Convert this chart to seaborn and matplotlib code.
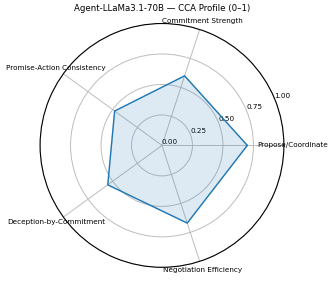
import numpy as np
import matplotlib
matplotlib.use("Agg")
import matplotlib.pyplot as plt
import seaborn as sns

categories = ["Propose/Coordinate", "Commitment Strength", "Promise-Action Consistency",
              "Deception-by-Commitment", "Negotiation Efficiency"]
values = [0.70, 0.60, 0.48, 0.55, 0.67]
rticks = [0.0, 0.25, 0.5, 0.75, 1.0]
rtick_labels = ["0.00", "0.25", "0.50", "0.75", "1.00"]

sns.set_style("white")
plt.rcParams['font.family'] = ['DejaVu Sans']
plt.rcParams['text.color'] = 'black'
plt.rcParams['xtick.color'] = 'black'
plt.rcParams['ytick.color'] = 'black'
plt.rcParams['axes.labelcolor'] = 'black'

fig = plt.figure(figsize=(3.34, 2.81), dpi=100)
ax = fig.add_subplot(111, polar=True)
angles = np.linspace(0, 2 * np.pi, len(categories), endpoint=False)
a = np.concatenate([angles, angles[:1]])
v = np.concatenate([values, values[:1]])
ax.plot(a, v, color="#1f77b4", linewidth=1.0)
ax.fill(a, v, color="#1f77b4", alpha=0.15)
ax.set_xticks(angles)
ax.set_xticklabels(categories, fontsize=5.2, color='black')
ax.tick_params(axis='x', pad=-4)
ax.set_ylim(0, 1)
ax.set_yticks(rticks)
ax.set_yticklabels(rtick_labels, fontsize=5.2, color='black')
ax.grid(True, color="#bdbdbd", linewidth=0.7)
ax.spines['polar'].set_linewidth(0.8)
ax.spines['polar'].set_color('black')
ax.set_title("Agent-LLaMa3.1-70B — CCA Profile (0–1)", fontsize=6.2, y=1.05, pad=0, color='black')
fig.subplots_adjust(left=0.12, right=0.85, top=0.92, bottom=0.045)
fig.savefig("out.png", dpi=100)
